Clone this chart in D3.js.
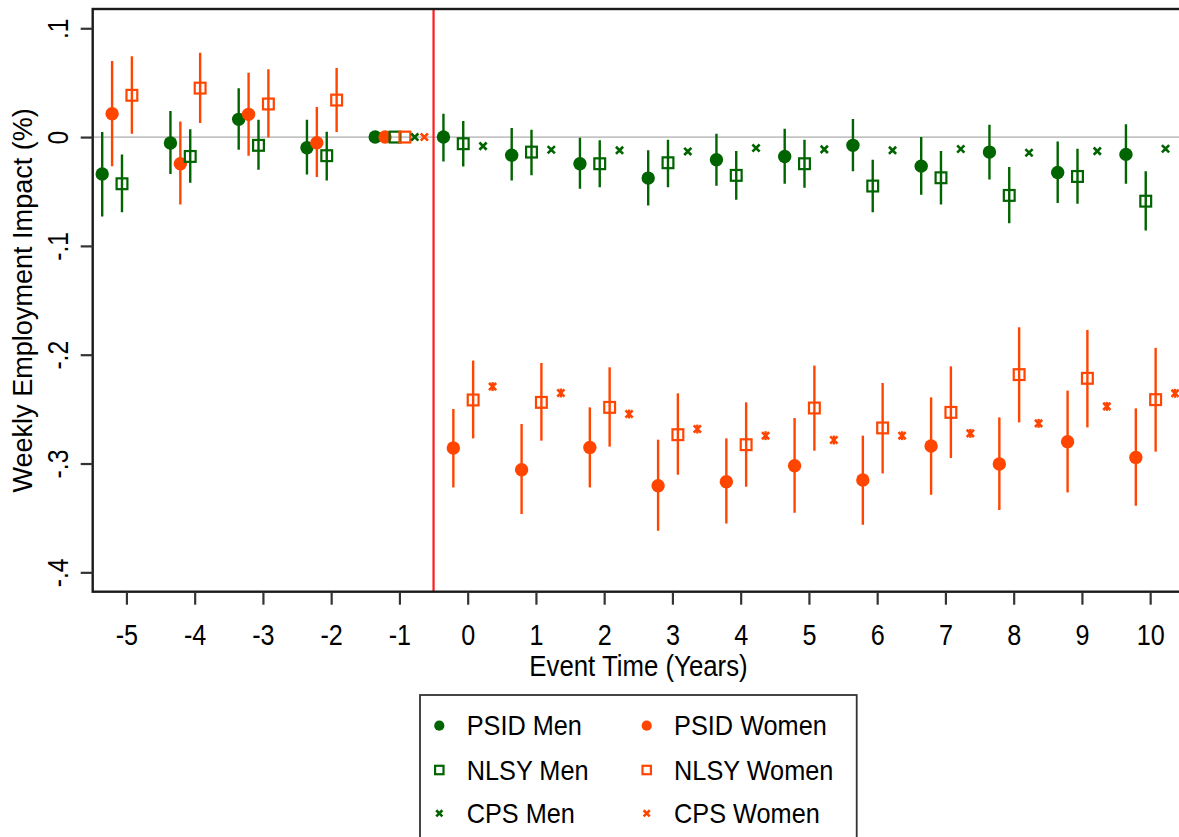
<!DOCTYPE html>
<html><head><meta charset="utf-8">
<script src="https://cdn.jsdelivr.net/npm/d3@7"></script>
<style>
body{margin:0;background:#fff}
svg{display:block}
text{font-family:"Liberation Sans",Arial,Helvetica,sans-serif;fill:#000}
</style>
</head><body>
<svg id="chart" width="1179" height="837"></svg>
<script>
// ---------------- DATA ----------------
const events = [-5,-4,-3,-2,-1,0,1,2,3,4,5,6,7,8,9,10];
const cpsEvents = [-1,0,1,2,3,4,5,6,7,8,9,10];

const psidMenEst = [-0.034,-0.0055,0.0163,-0.0098,0,0,-0.0166,-0.0245,-0.0377,-0.0208,-0.0178,-0.0076,-0.0267,-0.0138,-0.0325,-0.0159];
const psidMenHi  = [0.0046,0.024,0.0448,0.016,null,0.0215,0.0083,-0.0006,-0.0122,0.0031,0.0077,0.0166,0.0,0.0114,-0.004,0.0117];
const psidMenLo  = [-0.073,-0.034,-0.0116,-0.0343,null,-0.0224,-0.0398,-0.0475,-0.0628,-0.0447,-0.0429,-0.0313,-0.053,-0.0389,-0.0607,-0.0429];

const psidWomenEst = [0.0215,-0.0245,0.0209,-0.0052,0,-0.2857,-0.3057,-0.2852,-0.3204,-0.3167,-0.302,-0.3152,-0.2839,-0.3005,-0.2799,-0.2944];
const psidWomenHi  = [0.070,0.0144,0.059,0.0276,null,-0.2499,-0.2637,-0.2484,-0.2781,-0.2769,-0.2582,-0.2744,-0.2392,-0.2576,-0.233,-0.2493];
const psidWomenLo  = [-0.0267,-0.062,-0.0171,-0.0368,null,-0.322,-0.3465,-0.322,-0.3618,-0.3551,-0.3453,-0.3563,-0.3287,-0.3428,-0.3266,-0.3388];

const nlsyMenEst = [-0.0429,-0.0178,-0.0076,-0.0171,0,-0.0061,-0.0138,-0.0245,-0.0236,-0.0352,-0.0245,-0.045,-0.0374,-0.0536,-0.0362,-0.0589];
const nlsyMenHi  = [-0.016,0.0071,0.016,0.005,null,0.0147,0.0068,-0.003,-0.0024,-0.0129,-0.0024,-0.0208,-0.0129,-0.0276,-0.0107,-0.0313];
const nlsyMenLo  = [-0.069,-0.042,-0.030,-0.0398,null,-0.027,-0.035,-0.046,-0.046,-0.0576,-0.0466,-0.069,-0.0619,-0.0791,-0.0613,-0.0858];

const nlsyWomenEst = [0.0384,0.045,0.0304,0.034,0,-0.2416,-0.2438,-0.2484,-0.2735,-0.2827,-0.249,-0.2673,-0.253,-0.2183,-0.2217,-0.2413];
const nlsyWomenHi  = [0.0742,0.0776,0.0623,0.0635,null,-0.2054,-0.2076,-0.2116,-0.2355,-0.2438,-0.210,-0.226,-0.2107,-0.1748,-0.1772,-0.1937];
const nlsyWomenLo  = [0.003,0.0129,-0.0003,0.0046,null,-0.2769,-0.279,-0.2845,-0.3103,-0.3213,-0.2882,-0.3091,-0.2949,-0.2622,-0.2668,-0.2891];

const cpsMenEst = [0,-0.0083,-0.0116,-0.0122,-0.0132,-0.0101,-0.0113,-0.0122,-0.011,-0.0144,-0.0129,-0.0107];
const cpsMenHi  = [null,-0.0065,-0.0098,-0.0104,-0.0114,-0.0083,-0.0095,-0.0104,-0.0092,-0.0126,-0.0111,-0.0089];
const cpsMenLo  = [null,-0.0101,-0.0134,-0.014,-0.015,-0.0119,-0.0131,-0.014,-0.0128,-0.0162,-0.0147,-0.0125];

const cpsWomenEst = [0,-0.2293,-0.2352,-0.2545,-0.2683,-0.2744,-0.2784,-0.2744,-0.2723,-0.2631,-0.2475,-0.2355];
const cpsWomenHi  = [null,-0.2252,-0.2311,-0.2504,-0.2642,-0.2703,-0.2743,-0.2703,-0.2682,-0.259,-0.2434,-0.2314];
const cpsWomenLo  = [null,-0.2334,-0.2393,-0.2586,-0.2724,-0.2785,-0.2825,-0.2785,-0.2764,-0.2672,-0.2516,-0.2396];

const xTickValues = [-5,-4,-3,-2,-1,0,1,2,3,4,5,6,7,8,9,10];
const xTickLabels = ["-5","-4","-3","-2","-1","0","1","2","3","4","5","6","7","8","9","10"];
const yTickValues = [0.1,0,-0.1,-0.2,-0.3,-0.4];
const yTickLabels = [".1","0","-.1","-.2","-.3","-.4"];
const seriesNames = ["PSID Men","PSID Women","NLSY Men","NLSY Women","CPS Men","CPS Women"];
const xTitle = "Event Time (Years)";
const yTitle = "Weekly Employment Impact (%)";
const treatmentLine = -0.5;

// ---------------- STYLE / LAYOUT ----------------
const GREEN = "#006400", ORANGE = "#ff4500";
const plot = {left:92.7, right:1184.3, top:9, bottom:591.7};

const svg = d3.select("#chart");
const x = d3.scaleLinear().domain([-5.5,10.5]).range([92.3,1184.3]);
const y = d3.scaleLinear().domain([-0.4178,0.1177]).range([plot.bottom,plot.top]);

const series = [
  {name:seriesNames[0], t:events, est:psidMenEst, lo:psidMenLo, hi:psidMenHi, color:GREEN, shape:"dot", dx:-0.355},
  {name:seriesNames[1], t:events, est:psidWomenEst, lo:psidWomenLo, hi:psidWomenHi, color:ORANGE, shape:"dot", dx:-0.21},
  {name:seriesNames[2], t:events, est:nlsyMenEst, lo:nlsyMenLo, hi:nlsyMenHi, color:GREEN, shape:"square", dx:-0.065},
  {name:seriesNames[3], t:events, est:nlsyWomenEst, lo:nlsyWomenLo, hi:nlsyWomenHi, color:ORANGE, shape:"square", dx:0.08},
  {name:seriesNames[4], t:cpsEvents, est:cpsMenEst, lo:cpsMenLo, hi:cpsMenHi, color:GREEN, shape:"x", dx:0.225},
  {name:seriesNames[5], t:cpsEvents, est:cpsWomenEst, lo:cpsWomenLo, hi:cpsWomenHi, color:ORANGE, shape:"x", dx:0.365}
];

const clipId = "plotclip";
svg.append("clipPath").attr("id",clipId).append("rect")
  .attr("x",plot.left).attr("y",plot.top).attr("width",plot.right-plot.left).attr("height",plot.bottom-plot.top);

// zero reference line
svg.append("line").attr("x1",plot.left).attr("x2",plot.right).attr("y1",y(0)).attr("y2",y(0))
  .attr("stroke","#c4c4c4").attr("stroke-width",1.8);

// treatment line
svg.append("line").attr("x1",x(treatmentLine)).attr("x2",x(treatmentLine)).attr("y1",plot.top).attr("y2",plot.bottom)
  .attr("stroke","#ff1a1a").attr("stroke-width",2.2);

function drawMarker(g, shape, cx, cy, color, scale){
  const s = scale || 1;
  if(shape==="dot"){
    g.append("circle").attr("cx",cx).attr("cy",cy).attr("r",6.7*s).attr("fill",color);
  } else if(shape==="square"){
    const h = 5.4*s;
    g.append("rect").attr("x",cx-h).attr("y",cy-h).attr("width",2*h).attr("height",2*h)
      .attr("fill","none").attr("stroke",color).attr("stroke-width",2.2);
  } else {
    const h = 3.6*s;
    g.append("path").attr("d",`M${cx-h},${cy-h}L${cx+h},${cy+h}M${cx-h},${cy+h}L${cx+h},${cy-h}`)
      .attr("stroke",color).attr("stroke-width",2.6).attr("fill","none");
  }
}

const gData = svg.append("g").attr("clip-path",`url(#${clipId})`);
series.forEach(sr=>{
  const g = gData.append("g");
  sr.t.forEach((t,i)=>{
    if(sr.lo[i]!=null && sr.hi[i]!=null){
      g.append("line").attr("x1",x(t+sr.dx)).attr("x2",x(t+sr.dx))
        .attr("y1",y(sr.lo[i])).attr("y2",y(sr.hi[i]))
        .attr("stroke",sr.color).attr("stroke-width",2.4);
    }
  });
  sr.t.forEach((t,i)=>{
    drawMarker(g, sr.shape, x(t+sr.dx), y(sr.est[i]), sr.color, 1);
  });
});

// frame
svg.append("rect").attr("x",plot.left).attr("y",plot.top)
  .attr("width",plot.right-plot.left).attr("height",plot.bottom-plot.top)
  .attr("fill","none").attr("stroke","#1a1a1a").attr("stroke-width",2.4);

// x axis
const xAxis = svg.append("g").attr("transform",`translate(0,${plot.bottom})`)
  .call(d3.axisBottom(x).tickValues(xTickValues).tickSize(13).tickFormat((d,i)=>xTickLabels[i]));
xAxis.select(".domain").remove();
xAxis.selectAll(".tick line").attr("stroke","#333").attr("stroke-width",2.2);
xAxis.selectAll(".tick text").attr("y",53.7).attr("dy",null).attr("font-size",30)
  .attr("transform","scale(0.84,1)").attr("fill","#000");

// y axis
const yAxis = svg.append("g").attr("transform",`translate(${plot.left},0)`)
  .call(d3.axisLeft(y).tickValues(yTickValues).tickSize(12).tickFormat((d,i)=>yTickLabels[i]));
yAxis.select(".domain").remove();
yAxis.selectAll(".tick line").attr("stroke","#333").attr("stroke-width",2.2);
yAxis.selectAll(".tick text").attr("x",0).attr("y",0).attr("dy",null).attr("text-anchor","middle")
  .attr("font-size",29).attr("transform","translate(-24.4,0) rotate(-90) scale(0.85,1)").attr("fill","#000");

// titles
svg.append("text").attr("text-anchor","middle").attr("font-size",30)
  .attr("transform",`translate(${(plot.left+plot.right)/2},675.7) scale(0.86,1)`).text(xTitle);
svg.append("text").attr("text-anchor","middle").attr("font-size",28.5)
  .attr("transform",`translate(32.3,${(plot.top+plot.bottom)/2}) rotate(-90) scale(0.95,1)`).text(yTitle);

// legend
const leg = svg.append("g");
leg.append("rect").attr("x",420).attr("y",695).attr("width",436.7).attr("height",170)
  .attr("fill","#fff").attr("stroke","#333").attr("stroke-width",1.8);
const legCols = [439.3, 646.7];
const legRows = [725.7, 770, 813.3];
series.forEach((sr,i)=>{
  const col = i%2, row = Math.floor(i/2);
  const mx = legCols[col], my = legRows[row];
  drawMarker(leg, sr.shape, mx, my, sr.color, sr.shape==="dot"?0.76:(sr.shape==="square"?0.78:0.85));
  leg.append("text").attr("font-size",27.5)
    .attr("transform",`translate(${mx+27.4},${my+9.6}) scale(0.92,1)`).text(sr.name);
});
</script>
</body></html>
